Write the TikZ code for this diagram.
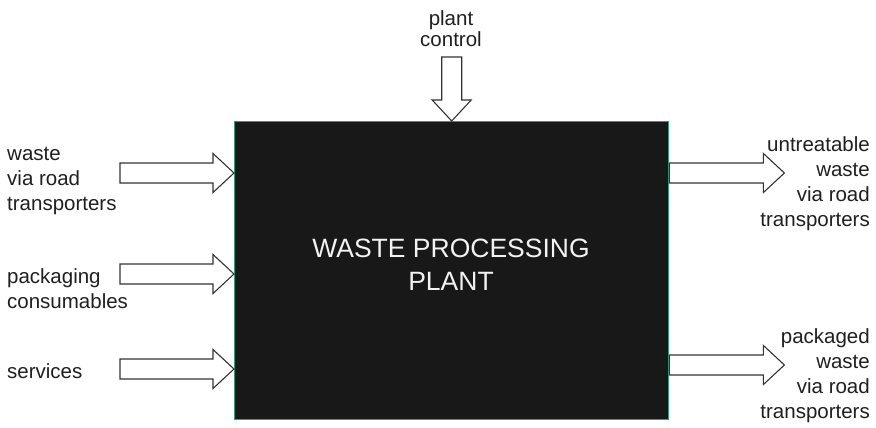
\documentclass[tikz,border=0pt]{standalone}
\usepackage{fontspec}
\setmainfont{Liberation Sans}
\usetikzlibrary{calc}
\definecolor{plantfill}{HTML}{181818}
\definecolor{plantedge}{HTML}{2E9E78}
\definecolor{arrowedge}{HTML}{333333}
\definecolor{plantlabel}{HTML}{F2F2F2}
\tikzset{
  plantbox/.style={draw=plantedge, line width=1.4pt, fill=plantfill, inner sep=0pt,
    minimum width=434pt, minimum height=298pt},
  flowarrow/.style={draw=arrowedge, fill=white, line width=1.1pt, line join=miter},
  flowlabel/.style={inner sep=0pt, font=\fontsize{20.5}{25}\selectfont, text=black!88},
  plantname/.style={inner sep=0pt, font=\fontsize{26.5}{33}\selectfont, text=plantlabel, align=center}
}
% block arrow: tip point, rotation, total length
\newcommand\flowblock[3]{%
  \draw[flowarrow, shift={(#1)}, rotate=#2]
    (0,0) -- (-21,19.5) -- (-21,10) -- (-#3,10) -- (-#3,-10) -- (-21,-10) -- (-21,-19.5) -- cycle;}
\begin{document}
\begin{tikzpicture}[x=1pt, y=-1pt]
  \useasboundingbox (0,0) rectangle (876,428);
  \node[plantbox, anchor=north west] (plant) at (234,121) {};
  \node[plantname] (name) at (451,265) {WASTE PROCESSING\\PLANT};

  % inputs from the left
  \coordinate (inwaste) at ($(plant.north west)+(0,52)$);
  \coordinate (inpack)  at ($(plant.north west)+(0,153)$);
  \coordinate (inserv)  at ($(plant.north west)+(0,248)$);
  \flowblock{inwaste}{0}{114}
  \flowblock{inpack}{0}{114}
  \flowblock{inserv}{0}{114}

  % control from above
  \coordinate (inctrl) at (plant.north);
  \flowblock{inctrl}{-90}{64}

  % outputs to the right
  \coordinate (outwaste) at ($(plant.north east)+(115,52)$);
  \coordinate (outpack)  at ($(plant.north east)+(115,244)$);
  \flowblock{outwaste}{0}{115}
  \flowblock{outpack}{0}{115}

  % labels (base anchor sits on the last line)
  \node[flowlabel, font=\fontsize{20.5}{21}\selectfont, anchor=base, align=center] (ctrl) at (451,47) {plant\\control};
  \node[flowlabel, anchor=base west, align=left] (lwaste) at (7,210) {waste\\via road\\transporters};
  \node[flowlabel, anchor=base west, align=left] (lpack) at (7,308) {packaging\\consumables};
  \node[flowlabel, anchor=base west, align=left] (lserv) at (7,378) {services};
  \node[flowlabel, anchor=base east, align=right] (runtr) at (870,226) {untreatable\\waste\\via road\\transporters};
  \node[flowlabel, anchor=base east, align=right] (rpack) at (870,418) {packaged\\waste\\via road\\transporters};
\end{tikzpicture}
\end{document}
